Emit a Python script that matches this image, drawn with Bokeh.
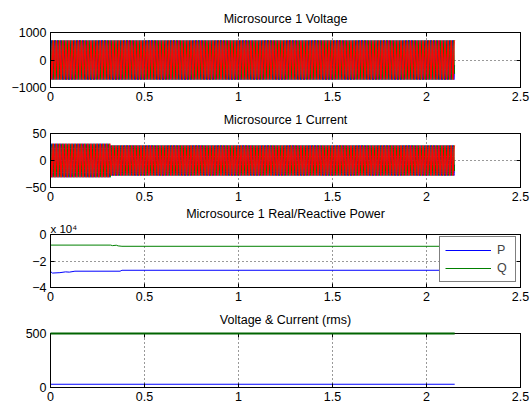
import numpy as np
from bokeh.plotting import figure
from bokeh.layouts import column
from bokeh.models import (Range1d, FixedTicker, LinearAxis, CustomJSTickFormatter,
                          Legend, LegendItem, Title)
from bokeh.embed import file_html
from bokeh.resources import INLINE

# ---------------- data ----------------
x_ticks = [0, 0.5, 1, 1.5, 2, 2.5]
t_end = 2.15
line_freq = 60.0
phase_shift_deg = [0, -120, 120]
phase_colors = ["#0000ff", "#008000", "#ff0000"]
phase_widths = [1, 1, 1.3]

volt_amp_t = [0.0, 2.15]
volt_amp = [715]
curr_amp_t = [0.0, 0.32, 2.15]
curr_amp = [31, 28]

p_t = [0.0, 0.01, 0.05, 0.08, 0.10, 0.13, 0.37, 0.38, 2.15]
p_val = [-2.79e4, -2.91e4, -2.88e4, -2.82e4, -2.84e4, -2.77e4, -2.77e4, -2.70e4, -2.70e4]
q_t = [0.0, 0.32, 0.33, 0.35, 0.36, 0.38, 2.15]
q_val = [-0.80e4, -0.80e4, -0.84e4, -0.81e4, -0.86e4, -0.89e4, -0.89e4]

rms_t = [0.0, 2.15]
v_rms = [499, 499]
i_rms = [30, 30]

FONT = "Liberation Sans"
fmt = CustomJSTickFormatter(code="""
var s = (Math.round(tick*1000)/1000).toString();
return s.replace('-', '\u2212');
""")
fmt_e4 = CustomJSTickFormatter(code="""
var s = (Math.round(tick/1e4*1000)/1000).toString();
return s.replace('-', '\u2212');
""")


def waveform(amp_t, amp):
    t = np.arange(0.0, t_end, 1.0 / (line_freq * 24))
    a = np.zeros_like(t)
    for i, A in enumerate(amp):
        a[(t >= amp_t[i]) & (t <= amp_t[i + 1])] = A
    return t, [a * np.sin(2 * np.pi * line_freq * t + np.deg2rad(ph)) for ph in phase_shift_deg]


def make_title(text, align="center", size="12.5px", standoff=13):
    return Title(text=text, align=align, text_font=FONT, text_font_size=size,
                 text_font_style="normal", standoff=standoff, text_color="black")


def make_fig(title, y0, y1, yticks, yfmt, height, top_border, bottom_border, extra_title=None):
    p = figure(width=530, height=height, output_backend="svg", toolbar_location=None,
               x_range=Range1d(0, 2.5), y_range=Range1d(y0, y1), title=None,
               min_border_left=50, min_border_right=10, min_border_top=top_border,
               min_border_bottom=bottom_border, background_fill_color="white",
               border_fill_color="white", outline_line_color="black", outline_line_width=1)
    for ax in (p.xaxis[0], p.yaxis[0]):
        ax.major_tick_in = 4
        ax.major_tick_out = 0
        ax.minor_tick_in = 0
        ax.minor_tick_out = 0
        ax.major_label_text_font = FONT
        ax.major_label_text_font_size = "12.5px"
        ax.major_label_text_color = "black"
        ax.axis_line_color = "black"
        ax.major_tick_line_color = "black"
    p.xaxis[0].ticker = FixedTicker(ticks=x_ticks)
    p.xaxis[0].formatter = fmt
    p.xaxis[0].major_label_standoff = 4
    p.yaxis[0].ticker = FixedTicker(ticks=yticks)
    p.yaxis[0].formatter = yfmt
    p.yaxis[0].major_label_standoff = 4
    top = LinearAxis(ticker=FixedTicker(ticks=x_ticks), major_label_text_color=None,
                     major_label_text_font_size="1px",
                     major_tick_in=4, major_tick_out=0, minor_tick_out=0, minor_tick_in=0,
                     major_label_standoff=0, axis_line_color="black")
    right = LinearAxis(ticker=FixedTicker(ticks=yticks), major_label_text_color=None,
                       major_label_text_font_size="1px",
                       major_tick_in=4, major_tick_out=0, minor_tick_out=0, minor_tick_in=0,
                       major_label_standoff=0, axis_line_color="black")
    above = [top]
    if extra_title is not None:
        above.append(make_title(extra_title, align="left", size="11.5px", standoff=0))
        above.append(make_title(title, standoff=0))
    else:
        above.append(make_title(title))
    p.above = above
    p.add_layout(right, "right")
    p.xgrid.ticker = FixedTicker(ticks=x_ticks)
    p.ygrid.ticker = FixedTicker(ticks=yticks)
    for g in (p.xgrid[0], p.ygrid[0]):
        g.grid_line_color = "black"
        g.grid_line_dash = "1 3"
        g.grid_line_alpha = 0.8
    return p


# Panel 1
p1 = make_fig("Microsource 1 Voltage", -1000, 1000, [-1000, 0, 1000], fmt, 104, 32, 17)
t, ph = waveform(volt_amp_t, volt_amp)
for y, c, w in zip(ph, phase_colors, phase_widths):
    p1.line(t, y, line_color=c, line_width=w)

# Panel 2
p2 = make_fig("Microsource 1 Current", -50, 50, [-50, 0, 50], fmt, 100, 28, 17)
t, ph = waveform(curr_amp_t, curr_amp)
for y, c, w in zip(ph, phase_colors, phase_widths):
    p2.line(t, y, line_color=c, line_width=w)

# Panel 3
p3 = make_fig("Microsource 1 Real/Reactive Power", -4e4, 0, [-4e4, -2e4, 0], fmt_e4, 100, 28, 17,
              extra_title="x 10\u2074")
rp = p3.line(p_t, p_val, line_color="#0000ff", line_width=1)
rq = p3.line(q_t, q_val, line_color="#008000", line_width=1)
leg = Legend(items=[LegendItem(label="P", renderers=[rp]), LegendItem(label="Q", renderers=[rq])],
             location=(389, 5), padding=5, spacing=2, label_height=16, glyph_height=16,
             glyph_width=46, label_standoff=6, label_width=13,
             label_text_font=FONT, label_text_font_size="12.5px",
             border_line_color="black", border_line_width=1, background_fill_color="white",
             background_fill_alpha=1.0, margin=0)
p3.add_layout(leg, "center")

# Panel 4
p4 = make_fig("Voltage & Current (rms)", 0, 500, [0, 500], fmt, 100, 28, 17)
p4.line(rms_t, i_rms, line_color="#0000ff", line_width=1)
vr = p4.line(rms_t, v_rms, line_color="#006400", line_width=2)
vr.level = "overlay"

layout = column(p1, p2, p3, p4, spacing=0)
open("out.html", "w").write(file_html(layout, INLINE))
